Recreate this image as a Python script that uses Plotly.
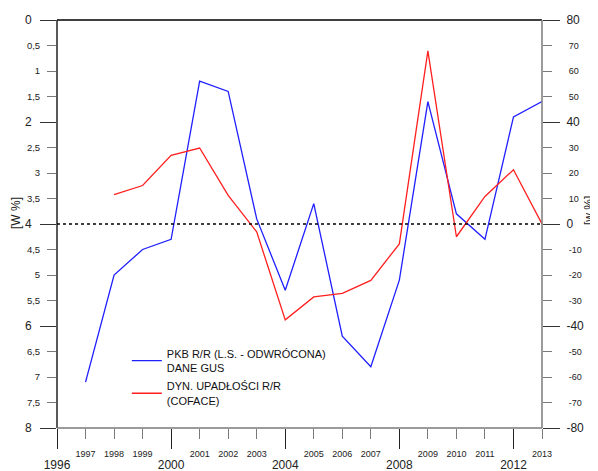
import plotly.graph_objects as go

# ---- data ----
years_gdp = list(range(1997, 2014))
gdp_inverted = [7.1, 5.0, 4.5, 4.3, 1.2, 1.4, 3.9, 5.3, 3.6, 6.2, 6.8, 5.1, 1.6, 3.8, 4.3, 1.9, 1.6]
years_bankr = list(range(1998, 2014))
bankruptcies = [11.5, 15.1, 26.9, 29.8, 11.2, -3.1, -37.6, -28.6, -27.2, -22.1, -7.8, 67.9, -5.0, 10.8, 21.3, 0.0]

gdp_name = "PKB R/R (L.S. - ODWRÓCONA)<br>DANE GUS"
bankr_name = "DYN. UPADŁOŚCI R/R<br>(COFACE)"

x_major = [1996, 2000, 2004, 2008, 2012]
x_major_text = ["1996", "2000", "2004", "2008", "2012"]
x_minor = [1997, 1998, 1999, 2001, 2002, 2003, 2005, 2006, 2007, 2009, 2010, 2011, 2013]
x_minor_text = [str(v) for v in x_minor]

left_major = [0, 2, 4, 6, 8]
left_major_text = ["0", "2", "4", "6", "8"]
left_minor = [0.5, 1, 1.5, 2.5, 3, 3.5, 4.5, 5, 5.5, 6.5, 7, 7.5]
left_minor_text = ["0,5", "1", "1,5", "2,5", "3", "3,5", "4,5", "5", "5,5", "6,5", "7", "7,5"]

right_major = [-80, -40, 0, 40, 80]
right_major_text = ["-80", "-40", "0", "40", "80"]
right_minor = [-70, -60, -50, -30, -20, -10, 10, 20, 30, 50, 60, 70]
right_minor_text = [str(v) for v in right_minor]

ref_level = 4  # left-axis level that matches 0 on the right axis

FONT = "Liberation Sans, Arial, sans-serif"
GRAY = "#7a7a7a"

# page body adds an 8px offset; margins compensate for it
W, H = 598, 471
L, R, T, B = 49, 64, 12, 51
PW, PH = W - L - R, H - T - B

fig = go.Figure()
fig.add_trace(go.Scatter(x=years_gdp, y=gdp_inverted, mode="lines", name=gdp_name,
                         legendgroup="g1",
                         line=dict(color="#1f1fff", width=1.3), xaxis="x", yaxis="y"))
fig.add_trace(go.Scatter(x=years_bankr, y=bankruptcies, mode="lines", name=bankr_name,
                         legendgroup="g2",
                         line=dict(color="#ff1f1f", width=1.3), xaxis="x", yaxis="y2"))
# helper (empty) traces so the extra tick axes get drawn
for xa, ya in [("x3", "y"), ("x", "y3"), ("x", "y4")]:
    fig.add_trace(go.Scatter(x=[None], y=[None], xaxis=xa, yaxis=ya, showlegend=False,
                             hoverinfo="skip"))

fig.add_shape(type="line", xref="x domain", yref="y", x0=0, x1=1, y0=ref_level, y1=ref_level,
              line=dict(color="black", width=1.3, dash="dot"))
# frame lines
fig.add_shape(type="line", xref="x domain", yref="y domain", x0=0, x1=1, y0=1, y1=1,
              line=dict(color="black", width=1.3), layer="above")
fig.add_shape(type="line", xref="x domain", yref="y domain", x0=0, x1=0, y0=0, y1=1,
              line=dict(color="black", width=1.3), layer="above")
fig.add_shape(type="line", xref="x domain", yref="y domain", x0=0, x1=1, y0=0, y1=0,
              line=dict(color=GRAY, width=1.5), layer="above")
fig.add_shape(type="line", xref="x domain", yref="y domain", x0=1, x1=1, y0=0, y1=1,
              line=dict(color=GRAY, width=1.5), layer="above")

xr = [1996, 2013]
common = dict(showgrid=False, zeroline=False, showline=False, automargin=False, ticks="outside")
fig.update_layout(
    width=W, height=H,
    margin=dict(l=L, r=R, t=T, b=B, autoexpand=False),
    paper_bgcolor="white", plot_bgcolor="white",
    font=dict(family=FONT, color="#222"),
    showlegend=True,
    legend=dict(x=0.144, y=0.216, xanchor="left", yanchor="top",
                bgcolor="rgba(0,0,0,0)", font=dict(size=11, family=FONT, color="#111"),
                tracegroupgap=1),
    xaxis=dict(range=xr, ticklen=20, tickcolor="#222", tickwidth=1,
               tickvals=x_major, ticktext=x_major_text, tickfont=dict(size=12),
               ticklabelstandoff=6, anchor="y", **common),
    xaxis3=dict(range=xr, overlaying="x", side="bottom", anchor="y", ticklen=10,
                tickcolor=GRAY, tickwidth=1.3, tickvals=x_minor, ticktext=x_minor_text,
                tickfont=dict(size=9), ticklabelstandoff=7, **common),
    yaxis=dict(range=[8, 0], ticklen=16, tickcolor="#333", tickwidth=1.3,
               tickvals=left_major, ticktext=left_major_text, tickfont=dict(size=12),
               ticklabelstandoff=6, anchor="x", **common),
    yaxis3=dict(range=[8, 0], overlaying="y", side="left", anchor="x", ticklen=9,
                tickcolor=GRAY, tickwidth=1.3, tickvals=left_minor, ticktext=left_minor_text,
                tickfont=dict(size=9.5), ticklabelstandoff=5, **common),
    yaxis2=dict(range=[-80, 80], overlaying="y", side="right", anchor="x", ticklen=17,
                tickcolor="#333", tickwidth=1.3, tickvals=right_major,
                ticktext=right_major_text, tickfont=dict(size=12), ticklabelstandoff=4,
                **common),
    yaxis4=dict(range=[-80, 80], overlaying="y", side="right", anchor="x", ticklen=9,
                tickcolor=GRAY, tickwidth=1.3, tickvals=right_minor,
                ticktext=right_minor_text, tickfont=dict(size=9), ticklabelstandoff=15,
                **common),
)

fig.add_annotation(text="[W %]", xref="paper", yref="paper",
                   x=(16 - 8 - L) / PW, y=(T + PH - (213 - 8)) / PH,
                   xanchor="center", yanchor="middle",
                   showarrow=False, textangle=-90, font=dict(size=12, family=FONT, color="#222"))
fig.add_annotation(text="[w %]", xref="paper", yref="paper",
                   x=(589 - 8 - L) / PW, y=(T + PH - (211 - 8)) / PH,
                   xanchor="center", yanchor="middle",
                   showarrow=False, textangle=-90, font=dict(size=12, family=FONT, color="#222"))

fig.write_html("out.html")
